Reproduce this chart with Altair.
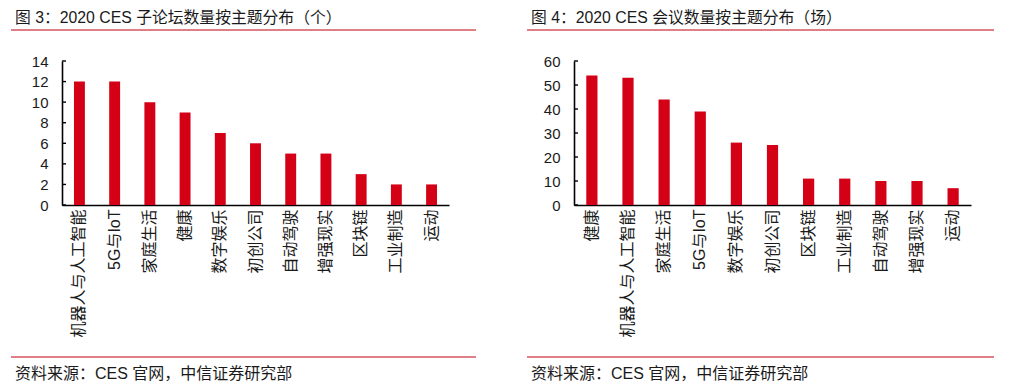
import altair as alt
import pandas as pd

# ---- data ----
left_title = "图 3：2020 CES 子论坛数量按主题分布（个）"
left_cats = ["机器人与人工智能", "5G与IoT", "家庭生活", "健康", "数字娱乐", "初创公司",
             "自动驾驶", "增强现实", "区块链", "工业制造", "运动"]
left_vals = [12, 12, 10, 9, 7, 6, 5, 5, 3, 2, 2]
left_ticks = [0, 2, 4, 6, 8, 10, 12, 14]

right_title = "图 4：2020 CES 会议数量按主题分布（场）"
right_cats = ["健康", "机器人与人工智能", "家庭生活", "5G与IoT", "数字娱乐", "初创公司",
              "区块链", "工业制造", "自动驾驶", "增强现实", "运动"]
right_vals = [54, 53, 44, 39, 26, 25, 11, 11, 10, 10, 7]
right_ticks = [0, 10, 20, 30, 40, 50, 60]

source = "资料来源：CES 官网，中信证券研究部"

BAR = "#D40016"
LINE = "#C0000C"
TXT = "#1a1a1a"
FONT = "Liberation Sans, Arial, Noto Sans CJK SC"


def panel(title, cats, vals, ticks, width, ul_x, ul_x2, tx):
    df = pd.DataFrame({"cat": cats, "val": vals})
    one = pd.DataFrame({"k": [0]})
    ymax = ticks[-1]
    yscale = alt.Scale(domain=[0, ymax], nice=False)
    yaxis = alt.Axis(values=ticks, ticks=False, labelPadding=14, grid=False,
                     labelFontSize=15, labelFont=FONT, labelColor=TXT,
                     domainColor="black", domainWidth=1.6)
    bars = alt.Chart(df).mark_bar(color=BAR).encode(
        x=alt.X("cat:N", sort=cats, title=None,
                scale=alt.Scale(paddingInner=0.69, paddingOuter=0.34),
                axis=alt.Axis(labelAngle=-90, ticks=False, labelPadding=4,
                              labelFontSize=16, labelFont=FONT, labelColor=TXT,
                              domainColor="black", domainWidth=1.6, labelLimit=300)),
        y=alt.Y("val:Q", title=None, scale=yscale, axis=yaxis),
    )
    tdf = pd.DataFrame({"val": ticks})
    tick_marks = alt.Chart(tdf).mark_rule(color="black", strokeWidth=1.4).encode(
        y=alt.Y("val:Q", title=None, scale=yscale, axis=yaxis),
        x=alt.value(0), x2=alt.value(4),
    )
    underline = alt.Chart(one).mark_rule(color=LINE, strokeWidth=1).encode(
        x=alt.value(ul_x), x2=alt.value(ul_x2), y=alt.value(-31))
    bottom = alt.Chart(one).mark_rule(color=LINE, strokeWidth=1).encode(
        x=alt.value(ul_x), x2=alt.value(ul_x2), y=alt.value(296))
    ttl = alt.Chart(one).mark_text(text=title, align="left", baseline="middle",
                                   fontSize=15.8, font=FONT, color=TXT).encode(
        x=alt.value(tx), y=alt.value(-43))
    src = alt.Chart(one).mark_text(text=source, align="left", baseline="middle",
                                   fontSize=16, font=FONT, color=TXT).encode(
        x=alt.value(tx), y=alt.value(313))
    return alt.layer(bars, tick_marks, underline, bottom, ttl, src).properties(
        width=width, height=144)


left = panel(left_title, left_cats, left_vals, left_ticks, 387, -51, 414, -47)
right = panel(right_title, right_cats, right_vals, right_ticks, 397, -47, 420, -43)

chart = alt.hconcat(left, right, spacing=125, bounds="flush").properties(
    padding={"left": 2, "top": 2, "right": 0, "bottom": 0}
).configure_view(stroke=None)

chart.save("out.html", embed_options={"renderer": "svg", "actions": False})
